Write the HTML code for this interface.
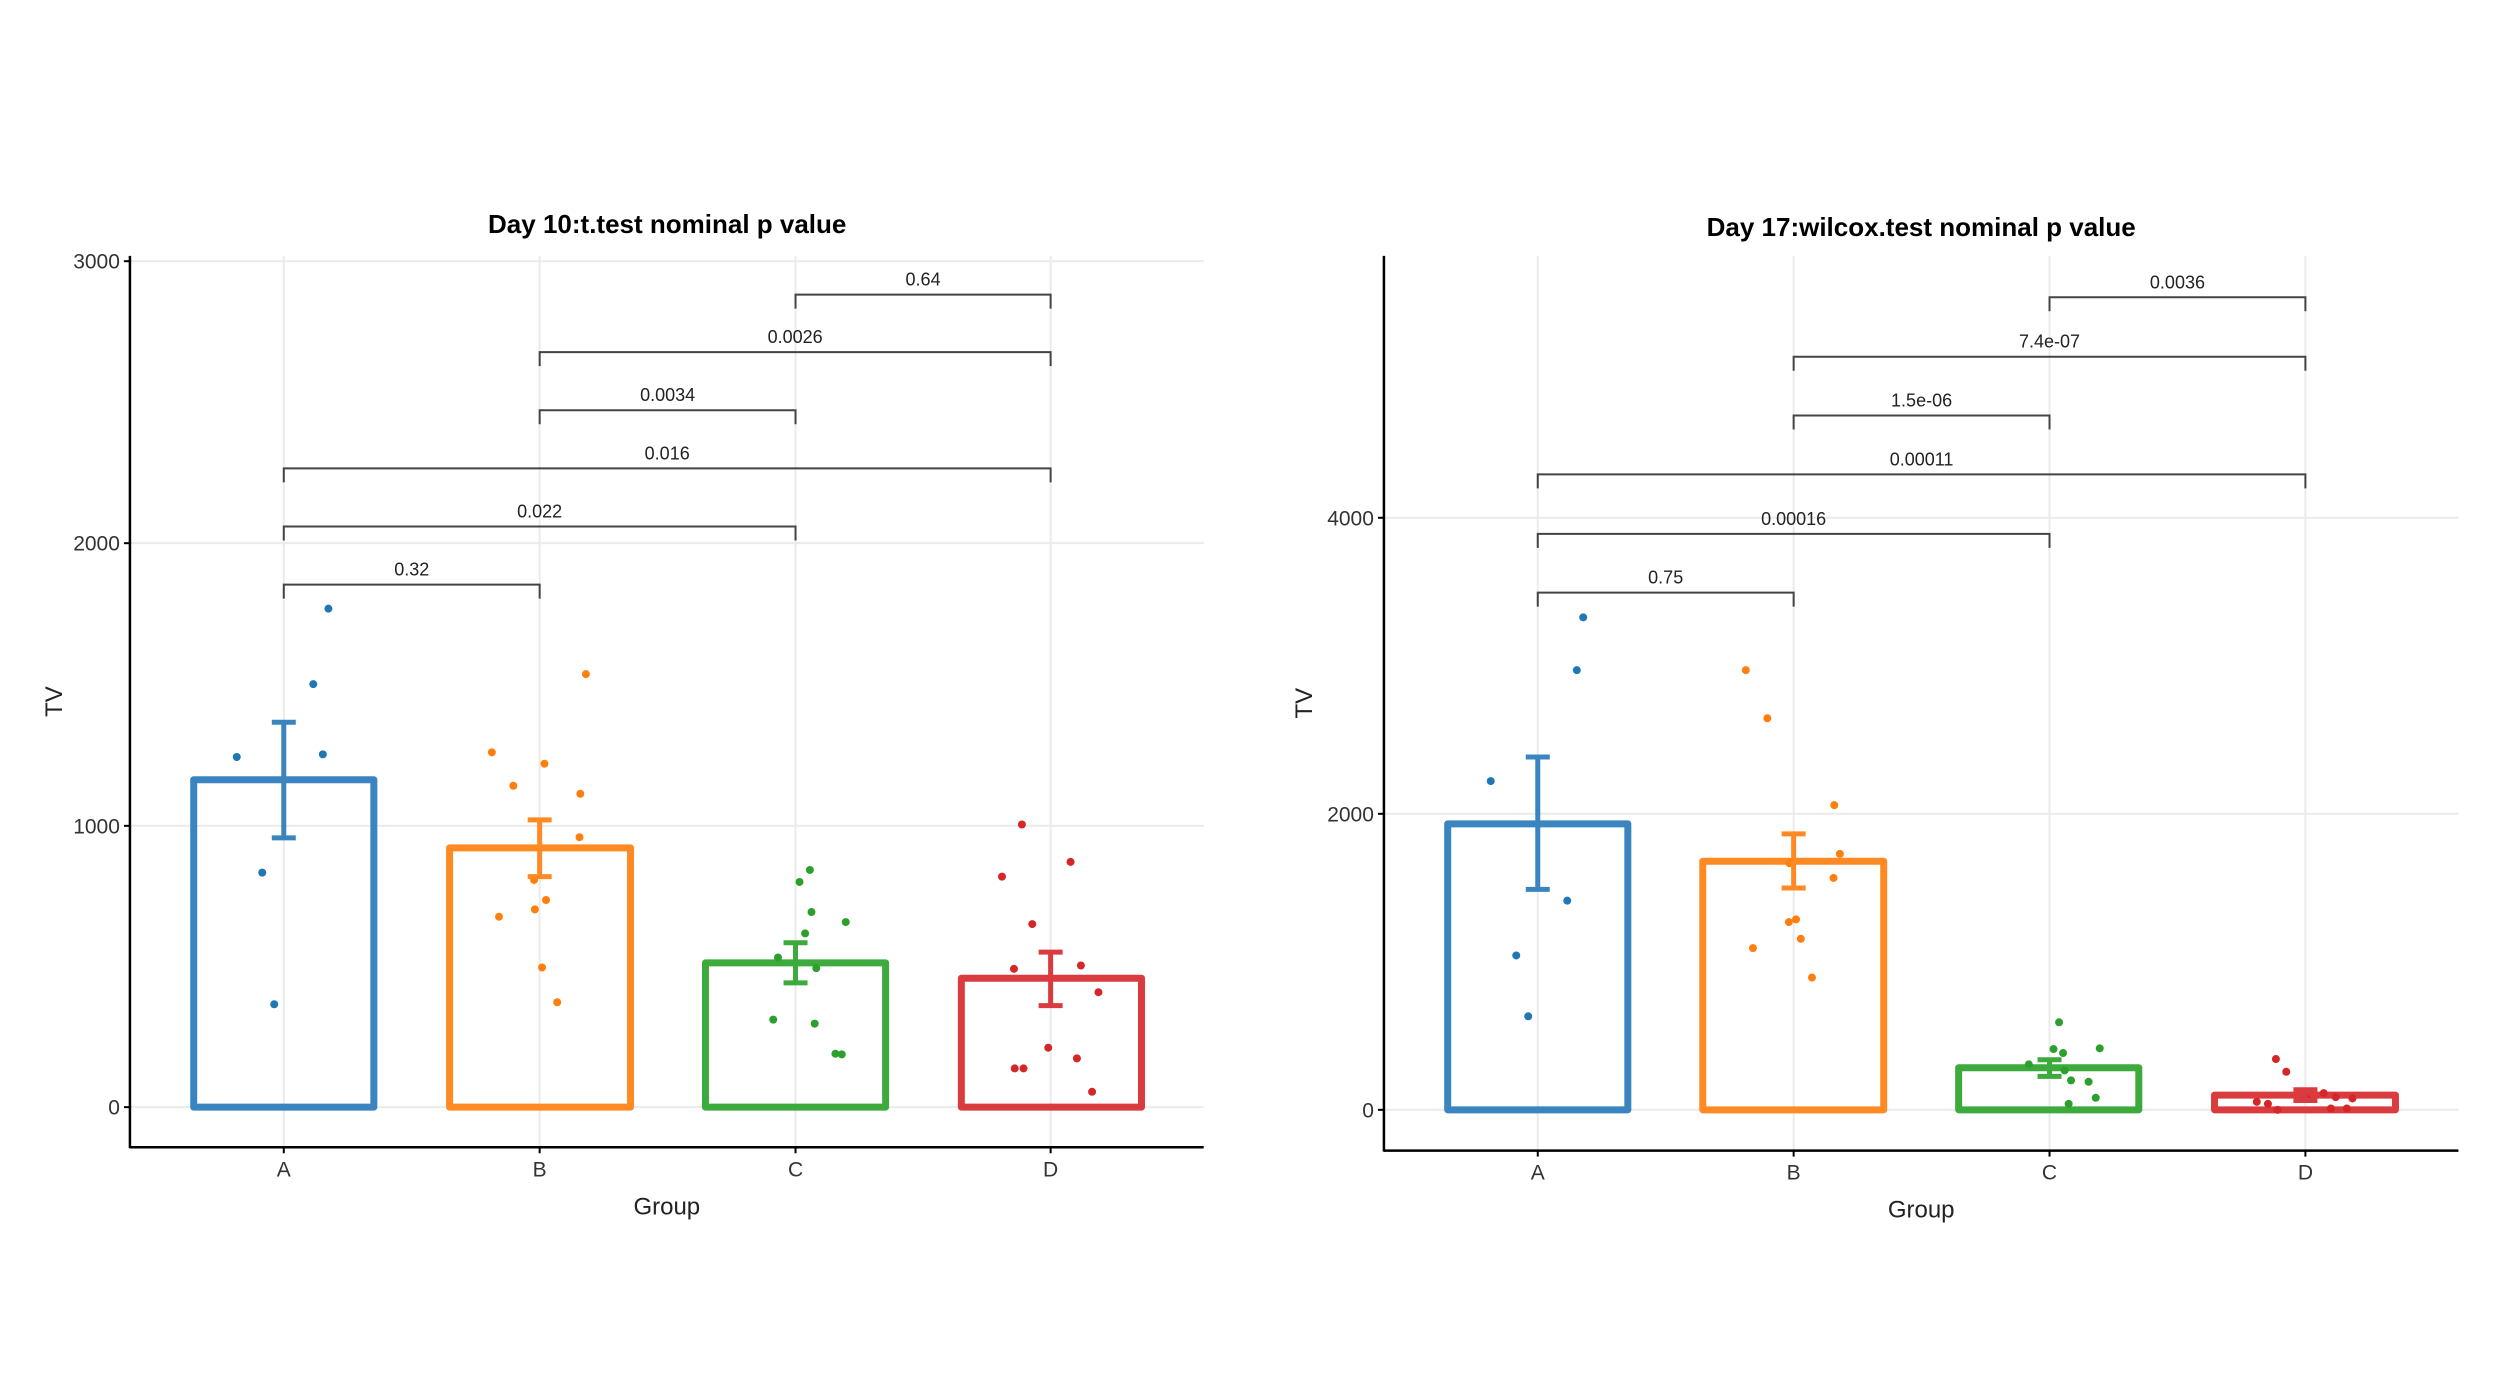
<!DOCTYPE html>
<html><head><meta charset="utf-8"><style>
html,body{margin:0;padding:0;background:#fff;}
svg{display:block;font-family:"Liberation Sans",Arial,sans-serif;}
</style></head><body>
<svg id="s" width="2500" height="1400" viewBox="0 0 2500 1400" xmlns="http://www.w3.org/2000/svg"></svg>
<script>
var S=document.getElementById('s');var out='';
var FX=1.2545,FY=1.4965,OY=181;
var cols=['#3a85bf','#ff8a24','#3caa3c','#d93b3e'];
var pcols=['#1f77b4','#ff7f0e','#2ca02c','#d62728'];
function panel(ox,cfg){
 function X(x){return ox+x/FX;} function Y(y){return OY+y/FY;}
 var top=Y(112),bot=Y(cfg.axY),left=X(cfg.axX),right=X(cfg.axR);
 cfg.ticks.forEach(function(t){out+='<line x1="'+left+'" x2="'+right+'" y1="'+Y(t[1])+'" y2="'+Y(t[1])+'" stroke="#ebebeb" stroke-width="2"/>';});
 cfg.cats.forEach(function(c){out+='<line x1="'+X(c)+'" x2="'+X(c)+'" y1="'+top+'" y2="'+bot+'" stroke="#ebebeb" stroke-width="2"/>';});
 cfg.bars.forEach(function(b,i){var x1=X(b[0]),x2=X(b[1]),yt=Y(b[2]),y0=Y(cfg.zero);
  out+='<rect x="'+x1+'" y="'+yt+'" width="'+(x2-x1)+'" height="'+(y0-yt)+'" fill="none" stroke="'+cols[i]+'" stroke-width="7" stroke-linejoin="round"/>';});
 cfg.pts.forEach(function(g,i){g.forEach(function(p){out+='<circle cx="'+X(p[0])+'" cy="'+Y(p[1])+'" r="4" fill="'+pcols[i]+'"/>';});});
 cfg.err.forEach(function(e,i){var cx=X(cfg.cats[i]),a=Y(e[0]),b=Y(e[1]);
  out+='<line x1="'+cx+'" x2="'+cx+'" y1="'+a+'" y2="'+b+'" stroke="'+cols[i]+'" stroke-width="5"/>';
  out+='<line x1="'+(cx-12)+'" x2="'+(cx+12)+'" y1="'+a+'" y2="'+a+'" stroke="'+cols[i]+'" stroke-width="5"/>';
  out+='<line x1="'+(cx-12)+'" x2="'+(cx+12)+'" y1="'+b+'" y2="'+b+'" stroke="'+cols[i]+'" stroke-width="5"/>';});
 cfg.br.forEach(function(b){var x1=X(cfg.cats[b[0]]),x2=X(cfg.cats[b[1]]),y=Y(b[2]);
  out+='<path d="M'+x1+' '+(y+14)+'V'+y+'H'+x2+'V'+(y+14)+'" fill="none" stroke="#444" stroke-width="2"/>';
  out+='<text x="'+((x1+x2)/2)+'" y="'+(y-9)+'" font-size="18" text-anchor="middle" fill="#222">'+b[3]+'</text>';});
 out+='<line x1="'+left+'" x2="'+left+'" y1="'+top+'" y2="'+(bot+1)+'" stroke="#000" stroke-width="2.5"/>';
 out+='<line x1="'+left+'" x2="'+right+'" y1="'+bot+'" y2="'+bot+'" stroke="#000" stroke-width="2.5"/>';
 cfg.ticks.forEach(function(t){var y=Y(t[1]);out+='<line x1="'+(left-6)+'" x2="'+left+'" y1="'+y+'" y2="'+y+'" stroke="#000" stroke-width="2"/>';
  out+='<text x="'+(left-10)+'" y="'+(y+7.5)+'" font-size="21" text-anchor="end" fill="#333">'+t[0]+'</text>';});
 ['A','B','C','D'].forEach(function(l,i){var x=X(cfg.cats[i]);out+='<line x1="'+x+'" x2="'+x+'" y1="'+bot+'" y2="'+(bot+6)+'" stroke="#000" stroke-width="2"/>';
  out+='<text x="'+x+'" y="'+(bot+29)+'" font-size="21" text-anchor="middle" fill="#333">'+l+'</text>';});
 out+='<text x="'+((left+right)/2)+'" y="'+(bot+67)+'" font-size="24" text-anchor="middle" fill="#222">Group</text>';
 var ty=(top+bot)/2;out+='<text transform="translate('+(ox+62)+','+ty+') rotate(-90)" font-size="24" text-anchor="middle" fill="#222">TV</text>';
 out+='<text x="'+X(cfg.tX)+'" y="'+Y(cfg.tY)+'" font-size="26" font-weight="bold" text-anchor="middle" fill="#000">'+cfg.title+'</text>';
}
panel(0,{axX:163,axR:1510,axY:1446,zero:1386,cats:[356,677,998,1318],
 ticks:[['0',1386],['1000',965],['2000',542],['3000',120]],
 bars:[[243,469,896],[564,791,998],[885,1111,1170],[1206,1432,1193]],
 err:[[810,983],[956,1041],[1140,1200],[1154,1234]],
 br:[[2,3,170,'0.64'],[1,3,256,'0.0026'],[1,2,343,'0.0034'],[0,3,430,'0.016'],[0,2,517,'0.022'],[0,1,604,'0.32']],
 pts:[[[412,640],[393,753],[297,862],[405,858],[329,1035],[344,1232]],
 [[735,738],[617,855],[683,872],[644,905],[728,917],[727,982],[670,1046],[685,1076],[671,1090],[626,1101],[680,1177],[699,1229]],
 [[1016,1031],[1003,1049],[1018,1094],[1061,1109],[1010,1126],[976,1162],[1024,1178],[970,1255],[1022,1261],[1048,1306],[1056,1307]],
 [[1282,963],[1343,1019],[1257,1041],[1295,1112],[1272,1179],[1356,1174],[1378,1214],[1315,1297],[1351,1313],[1273,1328],[1284,1328],[1370,1363]]],
 tX:837,tY:78,title:'Day 10:t.test nominal p value'});
panel(1250,{axX:168,axR:1516,axY:1451,zero:1390,cats:[361,682,1003,1324],
 ticks:[['0',1390],['2000',947],['4000',504]],
 bars:[[248,474,962],[568,795,1018],[889,1115,1327],[1210,1437,1368]],
 err:[[862,1060],[977,1058],[1315,1340],[1360,1376]],
 br:[[2,3,174,'0.0036'],[1,3,263,'7.4e-07'],[1,2,351,'1.5e-06'],[0,3,439,'0.00011'],[0,2,528,'0.00016'],[0,1,616,'0.75']],
 pts:[[[418,653],[410,732],[302,898],[398,1077],[334,1159],[349,1250]],
 [[622,732],[649,804],[733,934],[740,1007],[732,1043],[677,1021],[685,1105],[676,1109],[691,1134],[631,1148],[705,1192]],
 [[1015,1259],[1066,1298],[1008,1299],[1020,1305],[977,1322],[1022,1331],[1030,1346],[1052,1348],[1061,1372],[1027,1381]],
 [[1287,1314],[1300,1333],[1347,1365],[1362,1371],[1383,1373],[1263,1378],[1277,1381],[1356,1388],[1376,1388],[1289,1390],[1325,1372]]],
 tX:842,tY:82,title:'Day 17:wilcox.test nominal p value'});
S.innerHTML=out;
</script>
</body></html>
